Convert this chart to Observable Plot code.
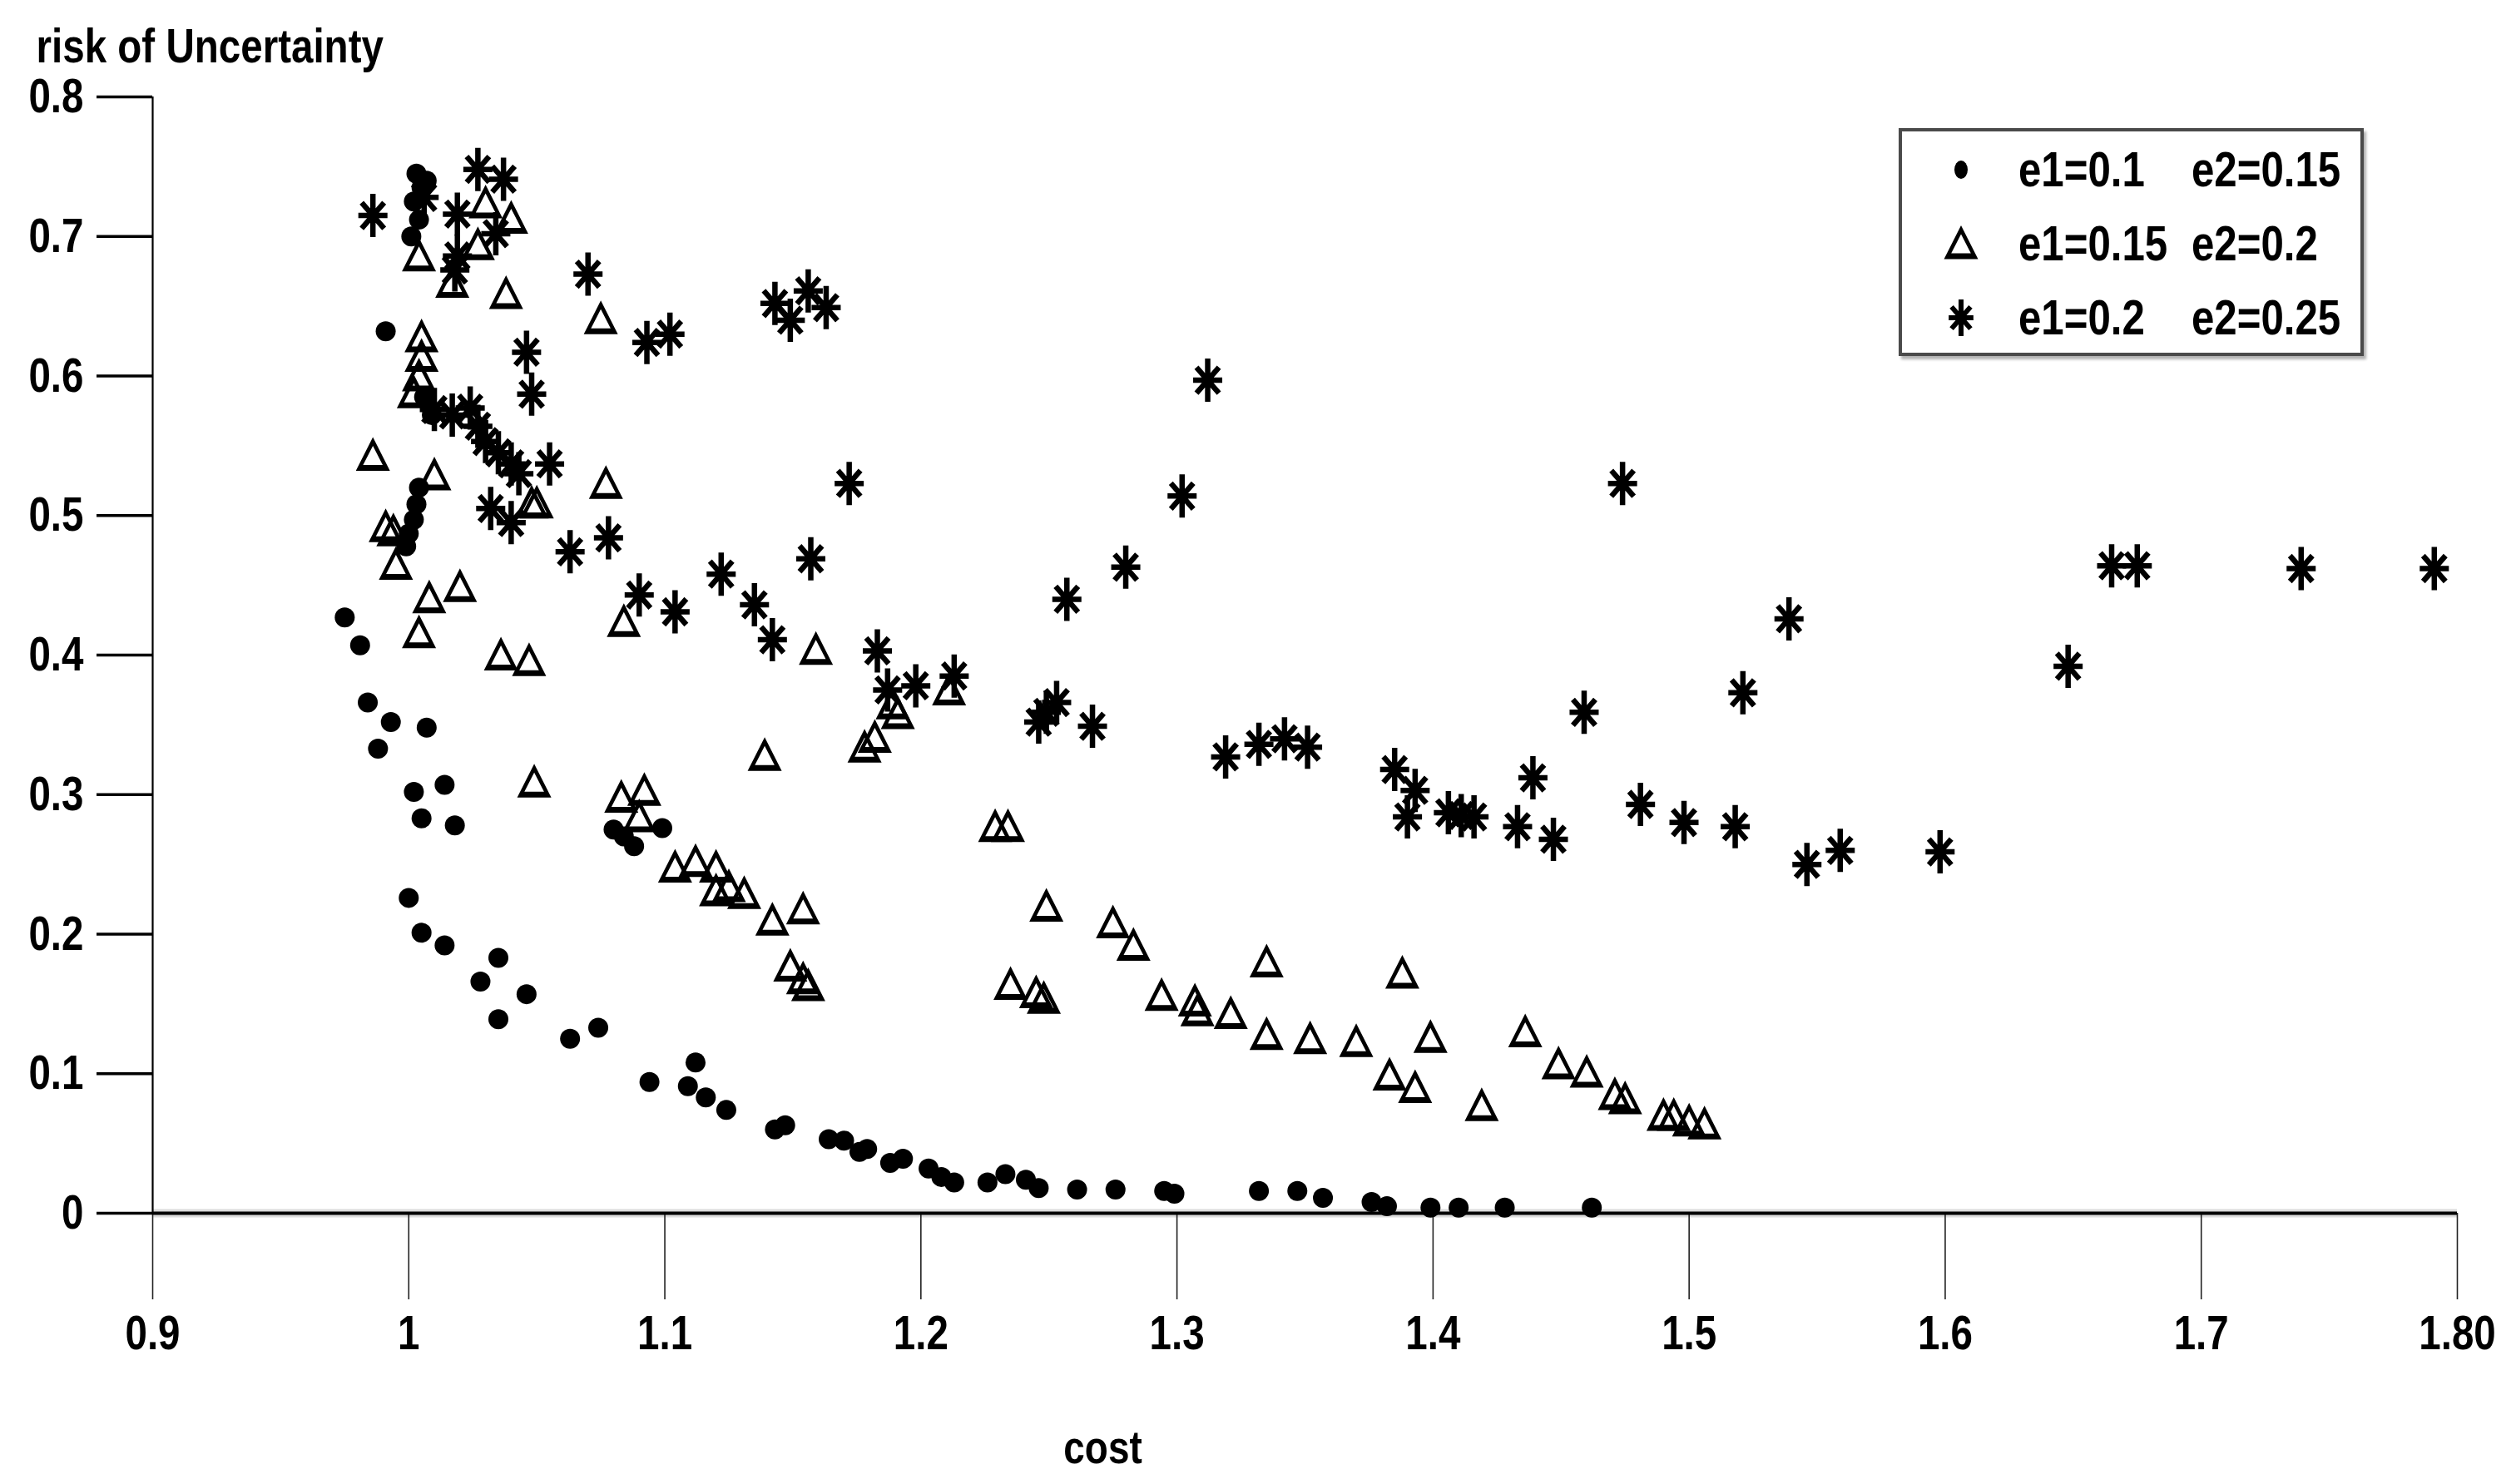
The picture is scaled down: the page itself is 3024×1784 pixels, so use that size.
<!DOCTYPE html>
<html>
<head>
<meta charset="utf-8">
<script src="https://cdn.jsdelivr.net/npm/d3@7"></script>
<script src="https://cdn.jsdelivr.net/npm/@observablehq/plot@0.6"></script>
<style>
  html, body { margin: 0; padding: 0; background: #fff; }
  #wrap { position: relative; width: 3024px; height: 1784px; overflow: hidden; }
  .legend { position: absolute; left: 2282px; top: 154px; width: 551px; height: 266px;
            border: 4px solid #4a4a4a; background: #fff; box-shadow: 3px 4px 3px rgba(0,0,0,0.3); }
  .row { position: absolute; left: 0; height: 60px; width: 100%; }
  .row svg { position: absolute; left: 41px; top: 0; }
  .lt { position: absolute; top: 0; height: 60px; line-height: 60px; font-size: 60px; font-weight: bold; color: #000;
        white-space: pre; transform: scaleX(0.82); transform-origin: 0 50%; }
</style>
</head>
<body>
<div id="wrap"></div>
<script>
// ---------- data ----------
const seriesNames = ["e1=0.1    e2=0.15", "e1=0.15 e2=0.2", "e1=0.2    e2=0.25"];
const legendCol1 = ["e1=0.1", "e1=0.15", "e1=0.2"];
const legendCol2 = ["e2=0.15", "e2=0.2", "e2=0.25"];

// series 1 : e1=0.1 e2=0.15 (filled dots)
const s1x = [1.003,1.005,1.002,1.004,1.001,1.007, 0.991, 1.006,1.009, 1.004,1.003,1.002,1.000,0.999,
  0.975,0.981,0.984,0.993,0.988,1.007,1.002,1.014,1.005,1.018,
  1.080,1.084,1.088,1.099,
  1.000,1.005,1.014,1.035,1.028,1.046,1.035,1.063,1.074,1.094,1.112,1.109,1.116,1.124,
  1.143,1.147,1.164,1.170,1.176,1.179,1.188,1.193,1.203,1.208,1.213,1.226,1.233,1.241,1.246,
  1.261,1.276,1.295,1.299,1.332,1.347,1.357,1.376,1.382,1.399,1.410,1.428,1.462];
const s1y = [0.745,0.735,0.725,0.712,0.700,0.740, 0.632, 0.585,0.572, 0.520,0.508,0.497,0.487,0.478,
  0.427,0.407,0.366,0.352,0.333,0.348,0.302,0.307,0.283,0.278,
  0.275,0.270,0.263,0.276,
  0.226,0.201,0.192,0.183,0.166,0.157,0.139,0.125,0.133,0.094,0.108,0.091,0.083,0.074,
  0.060,0.063,0.053,0.052,0.044,0.046,0.036,0.039,0.032,0.026,0.022,0.022,0.028,0.024,0.018,
  0.017,0.017,0.016,0.014,0.016,0.016,0.011,0.008,0.005,0.004,0.004,0.004,0.004];

// series 2 : e1=0.15 e2=0.2 (open triangles)
const s2x = [1.004,1.017,1.027,1.030,1.040,1.038,1.075,
  1.005,1.005,1.004,1.002,
  0.986,1.010,0.991,0.994,0.995,
  1.077,1.048,1.050,
  1.008,1.020,1.004,1.036,1.047,1.084,
  1.049,1.083,1.092,1.090,
  1.139,1.159,1.178,1.182,1.189,1.191,1.211,
  1.104,1.112,1.120,1.120,1.125,1.131,
  1.142,1.149,1.154,1.154,1.156,
  1.229,1.234,1.249,1.235,1.245,1.248,
  1.275,1.283,1.294,1.307,1.308,1.321,
  1.335,1.335,1.352,1.370,1.388,1.399,1.383,1.393,1.419,1.436,1.449,1.460,1.471,1.475,
  1.490,1.494,1.500,1.506];
const s2y = [0.686,0.667,0.694,0.724,0.713,0.659,0.641,
  0.628,0.614,0.600,0.588,
  0.543,0.529,0.492,0.489,0.465,
  0.523,0.509,0.509,
  0.441,0.449,0.416,0.400,0.396,0.424,
  0.309,0.298,0.303,0.284,
  0.328,0.404,0.334,0.341,0.365,0.358,0.375,
  0.248,0.252,0.248,0.231,0.234,0.229,
  0.210,0.177,0.168,0.218,0.163,
  0.277,0.277,0.220,0.164,0.158,0.154,
  0.208,0.192,0.156,0.152,0.145,0.143,
  0.180,0.128,0.125,0.123,0.172,0.126,0.099,0.090,0.077,0.130,0.107,0.101,0.085,0.082,
  0.070,0.070,0.066,0.064];

// series 3 : e1=0.2 e2=0.25 (asterisks)
const s3x = [0.986,1.027,1.037,1.019,1.034,1.019,1.018,1.006,
  1.070,1.046,1.048,
  1.010,1.017,1.024,1.027,1.030,1.035,1.040,1.043,1.032,1.040,1.055,
  1.063,1.078,1.090,1.104,1.122,1.135,1.142,1.157,1.172,1.183,1.187,1.198,1.213,
  1.093,1.102,1.143,1.149,1.156,1.163,
  1.312,1.302,1.280,1.257,
  1.246,1.249,1.253,1.267,
  1.319,1.332,1.342,1.351,
  1.385,1.393,1.390,1.406,1.411,1.416,1.433,1.439,1.447,1.459,1.474,
  1.481,1.498,1.518,1.521,1.539,1.546,1.559,1.598,1.648,1.665,1.675,1.739,1.791];
const s3y = [0.715,0.748,0.741,0.716,0.702,0.686,0.676,0.728,
  0.673,0.617,0.587,
  0.576,0.572,0.577,0.564,0.553,0.545,0.537,0.530,0.505,0.495,0.537,
  0.474,0.484,0.443,0.431,0.458,0.436,0.411,0.469,0.523,0.403,0.375,0.378,0.385,
  0.624,0.630,0.652,0.640,0.661,0.649,
  0.597,0.514,0.463,0.440,
  0.352,0.359,0.366,0.349,
  0.327,0.336,0.340,0.334,
  0.318,0.303,0.284,0.287,0.285,0.284,0.277,0.312,0.268,0.359,0.523,
  0.293,0.280,0.277,0.373,0.426,0.250,0.260,0.259,0.392,0.464,0.464,0.462,0.462];

// axis ticks
const xTicks = [0.9,1.0,1.1,1.2,1.3,1.4,1.5,1.6,1.7,1.8];
const xTickLabels = ["0.9","1","1.1","1.2","1.3","1.4","1.5","1.6","1.7","1.80"];
const yTicks = [0,0.1,0.2,0.3,0.4,0.5,0.6,0.7,0.8];
const yTickLabels = ["0","0.1","0.2","0.3","0.4","0.5","0.6","0.7","0.8"];
const xLabel = "cost";
const yLabel = "risk of Uncertainty";

// ---------- symbols ----------
const triSym = { draw(ctx, size) {
  const s = Math.sqrt(size / (Math.PI * 100));
  ctx.moveTo(0, -22 * s); ctx.lineTo(20.5 * s, 18.5 * s); ctx.lineTo(-20.5 * s, 18.5 * s); ctx.closePath();
  ctx.moveTo(0, -11.5 * s); ctx.lineTo(-11.8 * s, 11.5 * s); ctx.lineTo(11.8 * s, 11.5 * s); ctx.closePath();
}};
const astSym = { draw(ctx, size) {
  const s = Math.sqrt(size / (Math.PI * 100));
  ctx.moveTo(0, -26 * s); ctx.lineTo(0, 26 * s);
  ctx.moveTo(-17.5 * s, 0); ctx.lineTo(17.5 * s, 0);
  ctx.moveTo(-13.5 * s, -15.5 * s); ctx.lineTo(13.5 * s, 15.5 * s);
  ctx.moveTo(13.5 * s, -15.5 * s); ctx.lineTo(-13.5 * s, 15.5 * s);
}};

const FONT = '"Liberation Sans",Arial,"DejaVu Sans",sans-serif';
const NARROW = 0.82;

const toRows = (xs, ys, k) => xs.map((x, i) => ({cost: x, risk: ys[i], series: seriesNames[k]}));
const d1 = toRows(s1x, s1y, 0), d2 = toRows(s2x, s2y, 1), d3rows = toRows(s3x, s3y, 2);

const chart = Plot.plot({
  width: 3024, height: 1784,
  marginLeft: 183, marginRight: 71, marginTop: 116, marginBottom: 326,
  x: {domain: [0.9, 1.8]},
  y: {domain: [0, 0.8]},
  style: {fontFamily: FONT, fontWeight: "bold", color: "#000", background: "#fff", overflow: "visible"},
  marks: [
    Plot.ruleY([0], {stroke: "#dcdcdc", strokeWidth: 10}),
    Plot.axisX({ticks: xTicks, tickSize: 104, tickPadding: 18, strokeWidth: 1.6, stroke: "#222",
      fontSize: 58, label: null, tickFormat: d => xTickLabels[xTicks.findIndex(t => Math.abs(t - d) < 1e-9)]}),
    Plot.axisY({ticks: yTicks, tickSize: 67, tickPadding: 16, strokeWidth: 3.5, stroke: "#000",
      fontSize: 58, label: null, tickFormat: d => yTickLabels[yTicks.findIndex(t => Math.abs(t - d) < 1e-9)]}),
    Plot.ruleY([yTicks[0]], {strokeWidth: 4, stroke: "#000"}),
    Plot.ruleX([xTicks[0]], {y1: yTicks[0], y2: yTicks[yTicks.length - 1], strokeWidth: 2.2, stroke: "#000"}),
    Plot.dot(d1, {x: "cost", y: "risk", r: 12, fill: "#000", stroke: "none"}),
    Plot.dot(d2, {x: "cost", y: "risk", r: 10, symbol: triSym, fill: "#000", stroke: "none"}),
    Plot.dot(d3rows, {x: "cost", y: "risk", r: 10, symbol: astSym, fill: "none", stroke: "#000", strokeWidth: 6.5}),
    Plot.text([yLabel], {frameAnchor: "top-left", dx: -140, dy: -42, lineAnchor: "bottom", textAnchor: "start",
      fontSize: 58, fontWeight: "bold", fill: "#000"}),
    Plot.text([xLabel], {frameAnchor: "bottom", dx: -243, dy: 300, lineAnchor: "bottom", textAnchor: "middle",
      fontSize: 56, fontWeight: "bold", fill: "#000"})
  ]
});

// narrow (condensed) lettering like the reference: squeeze each text about its own anchor
chart.querySelectorAll("text").forEach(t => {
  const tr = t.getAttribute("transform") || "";
  const x = parseFloat(t.getAttribute("x"));
  let pre = tr;
  if (!isNaN(x) && x !== 0) { pre = (tr + ` translate(${x},0)`).trim(); t.setAttribute("x", 0); }
  t.setAttribute("transform", (pre + ` scale(${NARROW},1)`).trim());
});

const wrap = document.getElementById("wrap");
wrap.appendChild(chart);

// ---------- legend (HTML overlay, symbols drawn with the same symbol objects) ----------
const SVGNS = "http://www.w3.org/2000/svg";
function pathCtx() {
  let s = "";
  return { moveTo(x, y) { s += `M${x},${y}`; }, lineTo(x, y) { s += `L${x},${y}`; },
           closePath() { s += "Z"; }, toString() { return s; } };
}
function symbolSVG(kind) {
  const svg = document.createElementNS(SVGNS, "svg");
  svg.setAttribute("width", 60); svg.setAttribute("height", 60); svg.setAttribute("viewBox", "-30 -30 60 60");
  let el;
  if (kind === 0) {
    el = document.createElementNS(SVGNS, "ellipse");
    el.setAttribute("rx", 8); el.setAttribute("ry", 11); el.setAttribute("fill", "#000");
  } else if (kind === 1) {
    const p = pathCtx(); triSym.draw(p, Math.PI * 100);
    el = document.createElementNS(SVGNS, "path");
    el.setAttribute("d", p.toString()); el.setAttribute("fill", "#000");
  } else {
    const p = pathCtx(); astSym.draw(p, Math.PI * 72);
    el = document.createElementNS(SVGNS, "path");
    el.setAttribute("d", p.toString()); el.setAttribute("fill", "none");
    el.setAttribute("stroke", "#000"); el.setAttribute("stroke-width", 6);
  }
  svg.appendChild(el);
  return svg;
}
const legend = document.createElement("div");
legend.className = "legend";
legend.style.fontFamily = FONT;
const rowTops = [16, 105, 194];
for (let k = 0; k < 3; k++) {
  const row = document.createElement("div");
  row.className = "row";
  row.style.top = rowTops[k] + "px";
  row.appendChild(symbolSVG(k));
  const t1 = document.createElement("div"); t1.className = "lt"; t1.style.left = "140px"; t1.textContent = legendCol1[k];
  const t2 = document.createElement("div"); t2.className = "lt"; t2.style.left = "348px"; t2.textContent = legendCol2[k];
  row.appendChild(t1); row.appendChild(t2);
  legend.appendChild(row);
}
wrap.appendChild(legend);
</script>
</body>
</html>
